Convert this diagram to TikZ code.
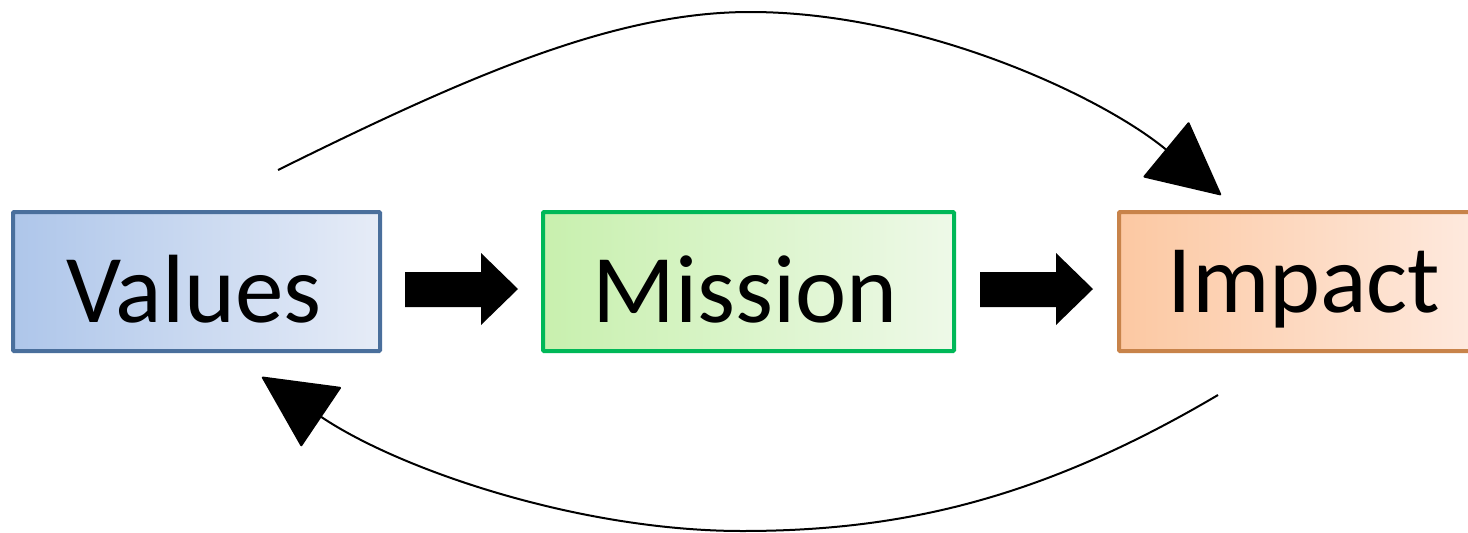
\documentclass[tikz,border=0pt]{standalone}
\usepackage{fontspec}
\setmainfont{Carlito}
\usetikzlibrary{arrows.meta}
\definecolor{vborder}{HTML}{4A6F9C}
\definecolor{vleft}{HTML}{AEC6EA}
\definecolor{vright}{HTML}{E6ECF7}
\definecolor{mborder}{HTML}{00B858}
\definecolor{mleft}{HTML}{C8F0AE}
\definecolor{mright}{HTML}{EEF9E8}
\definecolor{iborder}{HTML}{C8834A}
\definecolor{ileft}{HTML}{FCC8A2}
\definecolor{iright}{HTML}{FEEADF}
\tikzset{
  box/.style={draw, line width=4pt, minimum height=139pt, inner sep=0pt, rounded corners=1pt},
  label/.style={inner sep=0pt, font=\fontsize{97}{110}\selectfont},
  blockarrow/.style={fill=black, draw=none},
  curvearrow/.style={line width=2pt, -{Triangle[length=73pt,width=72pt,round]}},
}
\begin{document}
\begin{tikzpicture}[x=1pt,y=-1pt]
\useasboundingbox (0,0) rectangle (1468,533);
% boxes
\node[box, draw=vborder, left color=vleft, right color=vright, minimum width=367pt] (values) at (196.5,281.5) {};
\node[box, draw=mborder, left color=mleft, right color=mright, minimum width=411pt] (mission) at (748.5,281.5) {};
\node[box, draw=iborder, left color=ileft, right color=iright, minimum width=360pt, anchor=west] (impact) at (1117,281.5) {};
\node[label] (valuestext) at (194,289) {Values};
\node[label] (missiontext) at (745,289) {Mission};
\node[label] (impacttext) at (1304,289) {Impact};
% block arrows
\fill[blockarrow] (405,272) -- (481,272) -- (481,253) -- (518,289) -- (481,325) -- (481,307) -- (405,307) -- cycle;
\fill[blockarrow] (980,272) -- (1056,272) -- (1056,253) -- (1093,289) -- (1056,325) -- (1056,307) -- (980,307) -- cycle;
% curves
\coordinate (ts) at (278,170);
\coordinate (tp) at (750,12);
\coordinate (te) at (1221,195);
\coordinate (bs) at (1218,395);
\coordinate (bp) at (742,531);
\coordinate (be) at (262,377);
\draw[curvearrow] (ts) .. controls (470,75) and (615,12) .. (tp) .. controls (920,12) and (1100,95) .. (te);
\draw[curvearrow] (bs) .. controls (1040,500) and (900,531) .. (bp) .. controls (580,531) and (400,470) .. (be);
\end{tikzpicture}
\end{document}
